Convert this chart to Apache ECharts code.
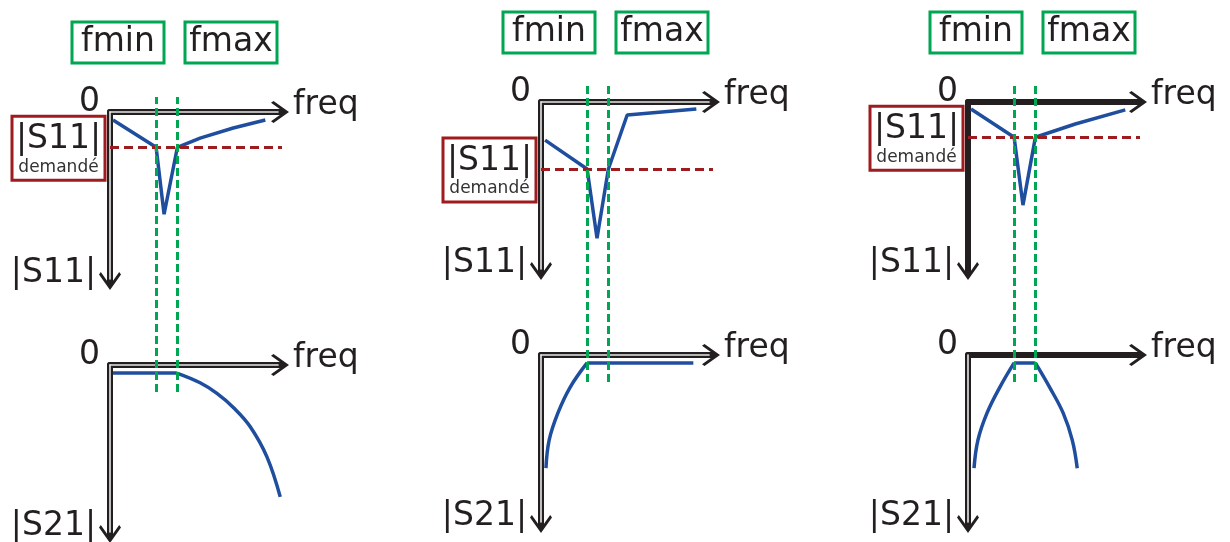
<!DOCTYPE html>
<html>
<head>
<meta charset="utf-8">
<script src="https://cdn.jsdelivr.net/npm/echarts@6/dist/echarts.min.js"></script>
<style>
  html, body { margin: 0; background: #fff; }
  #chart { width: 1230px; height: 542px; }
</style>
</head>
<body>
<div id="chart"></div>
<script>
// band edges, same for the three sketches (freq axis runs 0..97)
const fMin = 26
const fMax = 38
// required |S11| level for each sketch (|S11| axis runs 0..97 downward)
const s11Target = [20, 38, 20]

// low-pass sketch
const s11LowPass = [[1.7, 4.5], [26, 20], [30.5, 58], [38, 20], [50.8, 14.8], [69.5, 9.1], [87.6, 4.5]]
const s21LowPassFlat = [[1.7, 4.5], [37.7, 4.5]]
const s21LowPassRoll = [[37.7, 4.6], [50.8, 10.1], [60.3, 16.1], [69.7, 24.2], [79.1, 35], [88.5, 52.1], [96, 74.8]]
// high-pass sketch
const s11HighPass = [[2.3, 21.6], [26, 38], [31.6, 77.3], [38, 38], [48.6, 7.4], [87.6, 4]]
const s21HighPassRoll = [[2.8, 64.2], [4.6, 48.3], [9.5, 33], [16.5, 18.2], [26, 4.5]]
const s21HighPassFlat = [[26, 4.5], [85.9, 4.5]]
// band-pass sketch
const s11BandPass = [[1.7, 4], [26, 20], [31, 58.5], [38, 20], [60.5, 12.5], [88.7, 4.5]]
const s21BandPassLow = [[3.4, 64.2], [5.6, 48.3], [10.7, 33], [18, 18.2], [26, 4.5]]
const s21BandPassFlat = [[26, 4.5], [38, 4.5]]
const s21BandPassHigh = [[38, 4.5], [46.3, 18.8], [53.7, 33], [58.8, 48.3], [61.6, 64.2]]

const s11Sets = [s11LowPass, s11HighPass, s11BandPass]
// each |S21| sketch: [points, smoothed?]
const s21Sets = [
  [[s21LowPassFlat, false], [s21LowPassRoll, true]],
  [[s21HighPassRoll, true], [s21HighPassFlat, false]],
  [[s21BandPassLow, true], [s21BandPassFlat, false], [s21BandPassHigh, true]]
]

const ink = '#231f20', blue = '#1f4e9f', green = '#00a651', red = '#9e1b20'
const font = 'DejaVu Sans'
// open chevron arrow head, pointing up in its own frame
const arrowPath = 'path://M11,0 L22,15.5 L20.2,18 L11,5 L1.8,18 L0,15.5 Z'

// layout of each sketch: origin of the |S11| and |S21| plots
const panelLeft = [110, 541, 968]
const rowTop = [[112, 365], [102, 355], [102, 355]]
// which axis lines are drawn doubled (outline) instead of solid
const doubled = [
  [{ x: true, y: true }, { x: true, y: true }],
  [{ x: true, y: true }, { x: true, y: true }],
  [{ x: false, y: false }, { x: false, y: true }]
]
const W = 172, H = 171, AX_MAX = 97

const grid = [], xAxis = [], yAxis = [], series = []
const topGrid = []

function plainAxis(gi, extra) {
  return Object.assign({
    gridIndex: gi, type: 'value', min: 0, max: AX_MAX,
    axisTick: { show: false }, splitLine: { show: false }, axisLabel: { show: false }
  }, extra)
}

function curve(g, data, smooth) {
  return {
    type: 'line', xAxisIndex: g, yAxisIndex: g, z: 3, data,
    showSymbol: false, smooth: smooth ? 0.4 : false,
    lineStyle: { color: blue, width: 3.5 }
  }
}

panelLeft.forEach((left, p) => {
  rowTop[p].forEach((top, r) => {
    const g = grid.length
    if (r === 0) topGrid.push(g)
    grid.push({ left, top, width: W, height: H, outerBoundsMode: 'none' })
    xAxis.push(plainAxis(g, {
      position: 'top', z: 0,
      axisLine: {
        onZero: false, lineStyle: { color: ink, width: 6 },
        symbol: ['none', arrowPath], symbolSize: [22, 18], symbolOffset: [0, -2]
      },
      name: 'freq', nameLocation: 'end', nameGap: 11, nameMoveOverlap: false,
      nameTextStyle: { color: ink, fontFamily: font, fontSize: 33, verticalAlign: 'bottom', lineHeight: 13 }
    }))
    yAxis.push(plainAxis(g, {
      inverse: true, position: 'left', z: 0,
      axisLine: {
        onZero: false, lineStyle: { color: ink, width: 6 },
        symbol: [arrowPath, 'none'], symbolSize: [22, 18], symbolOffset: [2, 0]
      },
      axisLabel: {
        show: true, formatter: v => (v === 0 ? '0' : ''), color: ink, fontFamily: font,
        fontSize: 33, margin: 10, verticalAlign: 'bottom', lineHeight: 19
      },
      name: r === 0 ? '|S11|' : '|S21|', nameLocation: 'end', nameGap: 7, nameMoveOverlap: false,
      nameTextStyle: { color: ink, fontFamily: font, fontSize: 33, align: 'right', verticalAlign: 'bottom', padding: [0, 14, 0, 0] }
    }))
    if (r === 0) {
      const s = curve(g, s11Sets[p], false)
      s.markLine = {
        silent: true, symbol: 'none', label: { show: false },
        lineStyle: { color: red, width: 3, type: [9, 5] },
        data: [{ yAxis: s11Target[p] }]
      }
      series.push(s)
    } else {
      s21Sets[p].forEach(([data, smooth]) => series.push(curve(g, data, smooth)))
    }

    // light inner stroke for the doubled axis lines
    const gi = grid.length
    grid.push({ left, top, width: W - 4, height: H - 4, outerBoundsMode: 'none' })
    const d = doubled[p][r]
    xAxis.push(plainAxis(gi, { position: 'top', z: 1, axisLine: { show: d.x, onZero: false, lineStyle: { color: '#e8e8e8', width: 1.6 } } }))
    yAxis.push(plainAxis(gi, { inverse: true, position: 'left', z: 1, axisLine: { show: d.y, onZero: false, lineStyle: { color: '#e8e8e8', width: 1.6 } } }))
  })

  // fmin / fmax markers crossing both plots
  const gg = grid.length
  const gTop = rowTop[p][0] - (p === 0 ? 15 : 17)
  grid.push({ left, top: gTop, width: W, height: rowTop[p][1] + 27 - gTop, outerBoundsMode: 'none' })
  xAxis.push(plainAxis(gg, { show: false }))
  yAxis.push(plainAxis(gg, { show: false }))
  series.push({
    type: 'line', xAxisIndex: gg, yAxisIndex: gg, z: 4, data: [],
    markLine: {
      silent: true, symbol: 'none', label: { show: false },
      lineStyle: { color: green, width: 3, type: [8, 4] },
      data: [{ xAxis: fMin }, { xAxis: fMax }]
    }
  })
})

const chart = echarts.init(document.getElementById('chart'))
chart.setOption({
  animation: false,
  textStyle: { fontFamily: font },
  grid, xAxis, yAxis, series
})

function box(x, y, w, h, color, texts) {
  return {
    type: 'group', x, y,
    children: [{ type: 'rect', shape: { x: 0, y: 0, width: w, height: h }, style: { fill: '#fff', stroke: color, lineWidth: 3 } }]
      .concat(texts.map(t => ({
        type: 'text',
        style: { text: t.text, x: w / 2, y: t.y, align: 'center', verticalAlign: 'middle', fontFamily: font, fontSize: t.size, fill: t.color || ink }
      })))
  }
}

const graphic = []
topGrid.forEach((g, p) => {
  const [x0, y0] = chart.convertToPixel({ gridIndex: g }, [0, 0])
  const yL = chart.convertToPixel({ gridIndex: g }, [0, s11Target[p]])[1]
  graphic.push(box(x0 - 38, y0 - 90, 92, 41, green, [{ text: 'fmin', size: 33, y: 20 }]))
  graphic.push(box(x0 + 75, y0 - 90, 92, 41, green, [{ text: 'fmax', size: 33, y: 20 }]))
  graphic.push(box(x0 - 98, yL - 31, 93, 64, red, [
    { text: '|S11|', size: 33, y: 23 },
    { text: 'demandé', size: 17, y: 51, color: '#333' }
  ]))
})
chart.setOption({ graphic })
</script>
</body>
</html>
